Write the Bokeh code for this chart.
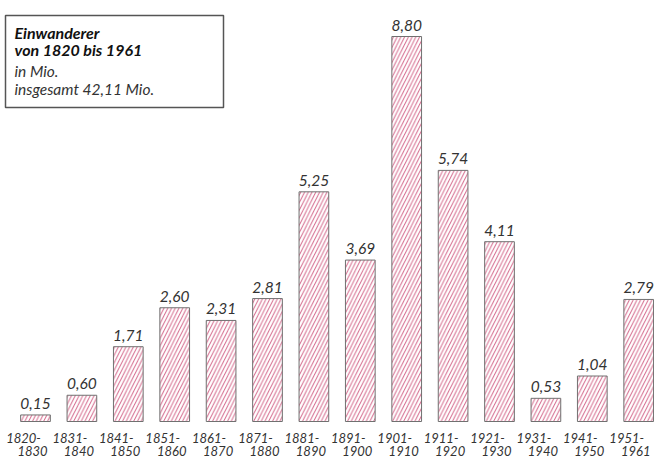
from bokeh.plotting import figure
from bokeh.models import ColumnDataSource
from bokeh.core.properties import value
from bokeh.embed import file_html
from bokeh.resources import INLINE

period_start = ["1820-", "1831-", "1841-", "1851-", "1861-", "1871-", "1881-",
                "1891-", "1901-", "1911-", "1921-", "1931-", "1941-", "1951-"]
period_end = ["1830", "1840", "1850", "1860", "1870", "1880", "1890",
              "1900", "1910", "1920", "1930", "1940", "1950", "1961"]
immigrants = [0.15, 0.60, 1.71, 2.60, 2.31, 2.81, 5.25, 3.69, 8.80, 5.74, 4.11, 0.53, 1.04, 2.79]
title_lines = ["Einwanderer", "von 1820 bis 1961"]
sub_lines = ["in Mio.", "insgesamt 42,11 Mio."]

W, H = 654, 457
PX_X = 46.4          # pixels per category step
PX_Y = 43.75         # pixels per million
x0 = -35 / PX_X
y0 = -(H - 421) / PX_Y

def dx(px):
    return x0 + px / PX_X

def dy(py_from_top):
    return y0 + (H - py_from_top) / PX_Y

FONT = "Lato"
xs = list(range(len(immigrants)))
src = ColumnDataSource(dict(
    x=xs, top=immigrants, p1=period_start, p2=period_end,
    lab=[f"{v:.2f}".replace(".", ",") for v in immigrants],
))

p = figure(width=W, height=H, output_backend="svg", toolbar_location=None,
           x_range=(x0, x0 + W / PX_X), y_range=(y0, y0 + H / PX_Y),
           min_border=0, outline_line_color=None)
p.axis.visible = False
p.grid.visible = False

p.vbar(x="x", top="top", bottom=0, width=0.64, source=src,
       fill_color="white", line_color="#707070", line_width=1,
       hatch_pattern="/", hatch_color="#d4668a", hatch_scale=7.5, hatch_weight=1)

p.text(x="x", y="top", text="lab", source=src, text_align="center",
       text_baseline="bottom", y_offset=-6, text_font=value(FONT),
       text_font_style="italic", text_font_size="15.5px", text_color="#333333")

# period labels, staggered in two lines (reference labels are slanted)
p.text(x="x", y=0, text="p1", source=src, text_align="center",
       text_baseline="middle", x_offset=-12, y_offset=16,
       text_font=value(FONT), text_font_style="italic", text_font_size="13px",
       text_color="#333333")
p.text(x="x", y=0, text="p2", source=src, text_align="center",
       text_baseline="middle", x_offset=-3, y_offset=29,
       text_font=value(FONT), text_font_style="italic", text_font_size="13px",
       text_color="#333333")

# title box
p.quad(left=[dx(5)], right=[dx(223)], top=[dy(15)], bottom=[dy(107)],
       fill_color="white", line_color="#555555", line_width=1.5)
p.text(x=[dx(14), dx(14)], y=[dy(32), dy(49)], text=title_lines,
       text_baseline="middle", text_font=value(FONT), text_font_style="bold italic",
       text_font_size="16px", text_color="#111111")
p.text(x=[dx(14), dx(14)], y=[dy(70), dy(88)], text=sub_lines,
       text_baseline="middle", text_font=value(FONT), text_font_style="italic",
       text_font_size="15.5px", text_color="#333333")

open("out.html", "w").write(file_html(p, INLINE))
